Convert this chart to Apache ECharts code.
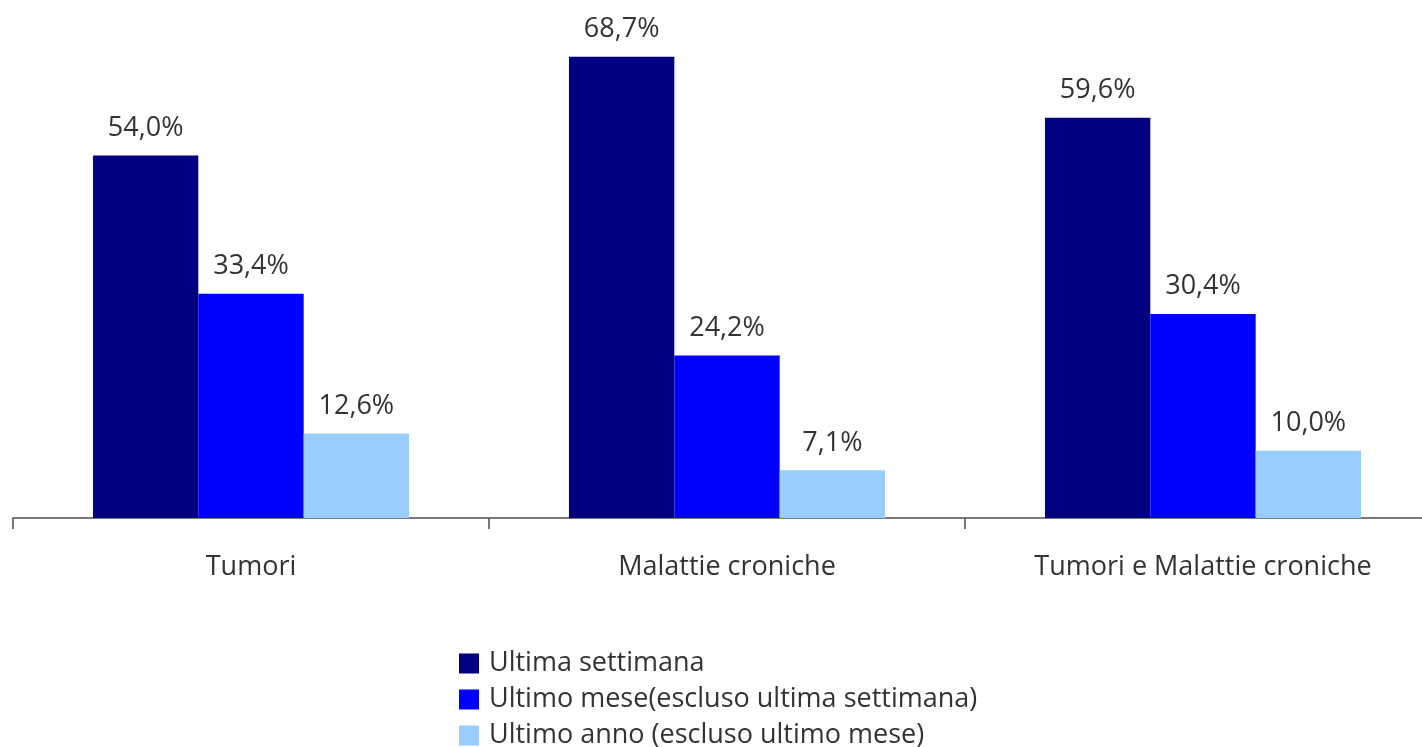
<!DOCTYPE html>
<html>
<head>
<meta charset="utf-8">
<script src="https://cdn.jsdelivr.net/npm/echarts@6/dist/echarts.min.js"></script>
<style>
  html, body { margin: 0; padding: 0; background: #fff; overflow: hidden; }
  #wrap { width: 1422px; height: 747px; overflow: hidden; }
  /* the plot runs past the right edge; the last category tick falls outside the view */
  #chart { width: 1441px; height: 747px; }
</style>
</head>
<body>
<div id="wrap"><div id="chart"></div></div>
<script>
const categories = ['Tumori', 'Malattie croniche', 'Tumori e Malattie croniche'];
const seriesNames = [
  'Ultima settimana',
  'Ultimo mese(escluso ultima settimana)',
  'Ultimo anno (escluso ultimo mese)'
];
const ultimaSettimana = [54.0, 68.7, 59.6];
const ultimoMese = [33.4, 24.2, 30.4];
const ultimoAnno = [12.6, 7.1, 10.0];
const colors = ['#000080', '#0000FF', '#99CCFF'];

const font = '"Open Sans", "Noto Sans", sans-serif';
const textColor = '#333333';
const fontSize = 27;

const chart = echarts.init(document.getElementById('chart'), null, { renderer: 'canvas' });

function bar(name, data, color) {
  return {
    name: name,
    type: 'bar',
    data: data,
    barGap: '0%',
    barCategoryGap: '33.6%',
    itemStyle: { color: color },
    label: {
      show: true,
      position: 'top',
      distance: 14,
      color: textColor,
      fontFamily: font,
      fontSize: fontSize,
      formatter: p => p.value.toFixed(1).replace('.', ',') + '%'
    }
  };
}

// one legend row per series, stacked under the plot
const legendRowTops = [650, 686, 722];
const legends = seriesNames.map((name, i) => ({
  orient: 'vertical',
  left: 459,
  top: legendRowTops[i],
  padding: 0,
  itemWidth: 20,
  itemHeight: 20,
  itemGap: 0,
  icon: 'rect',
  textStyle: {
    color: textColor, fontFamily: font, fontSize: fontSize,
    lineHeight: 22, padding: [0, 0, 0, 5]
  },
  data: [name]
}));

chart.setOption({
  animation: false,
  backgroundColor: '#ffffff',
  grid: { left: 13, right: 0, top: 48, bottom: 229, containLabel: false },
  xAxis: {
    type: 'category',
    data: categories,
    axisLine: { show: true, lineStyle: { color: '#4d4d4d', width: 1.5 } },
    axisTick: { show: true, length: 11, lineStyle: { color: '#4d4d4d', width: 1.5 } },
    axisLabel: { color: textColor, fontFamily: font, fontSize: fontSize, margin: 36 }
  },
  yAxis: {
    type: 'value',
    min: 0,
    max: 70,
    show: false,
    splitLine: { show: false }
  },
  legend: legends,
  series: [
    bar(seriesNames[0], ultimaSettimana, colors[0]),
    bar(seriesNames[1], ultimoMese, colors[1]),
    bar(seriesNames[2], ultimoAnno, colors[2])
  ]
});
</script>
</body>
</html>
